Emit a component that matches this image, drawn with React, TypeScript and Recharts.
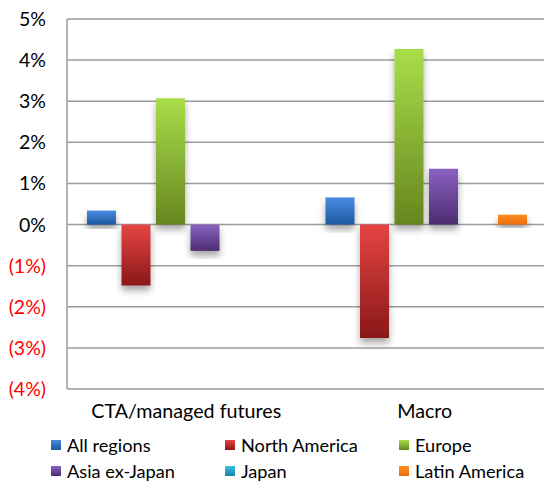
import { BarChart, Bar, XAxis, YAxis, CartesianGrid, Legend, Rectangle } from 'recharts'

// Regional returns by strategy, in percent
const categories = ['CTA/managed futures', 'Macro']
const allRegions = [0.34, 0.66]
const northAmerica = [-1.48, -2.76]
const europe = [3.07, 4.27]
const asiaExJapan = [-0.64, 1.36]
const japan = [0, 0]
const latinAmerica = [0, 0.24]
const yTicks = [-4, -3, -2, -1, 0, 1, 2, 3, 4, 5]

const series = [
  { key: 'allRegions', name: 'All regions', values: allRegions, top: '#4a8ce2', bottom: '#1d58a0' },
  { key: 'northAmerica', name: 'North America', values: northAmerica, top: '#e64444', bottom: '#8a1818' },
  { key: 'europe', name: 'Europe', values: europe, top: '#a9de4a', bottom: '#66861f' },
  { key: 'asiaExJapan', name: 'Asia ex-Japan', values: asiaExJapan, top: '#8a62c2', bottom: '#4c2c70' },
  { key: 'japan', name: 'Japan', values: japan, top: '#3cbde0', bottom: '#1a86a6' },
  { key: 'latinAmerica', name: 'Latin America', values: latinAmerica, top: '#ff8c24', bottom: '#ee6e0c' }
]

const data = categories.map((category, i) => {
  const row: Record<string, string | number> = { category }
  series.forEach(s => { row[s.key] = s.values[i] })
  return row
})

const FONT = 'Lato, "Liberation Sans", sans-serif'
const GRID = '#9c9c9c'

const YTick = ({ x, y, payload }: any) => {
  const v = payload.value as number
  const label = v < 0 ? `(${Math.abs(v)}%)` : `${v}%`
  return (
    <text x={x} y={y} dy={7} textAnchor="end" fontFamily={FONT} fontSize={19.5} fill={v < 0 ? '#ff0000' : '#000'}>
      {label}
    </text>
  )
}

const XTick = ({ x, y, payload }: any) => (
  <text x={x} y={y} dy={27} textAnchor="middle" fontFamily={FONT} fontSize={19.7} fill="#000">
    {payload.value}
  </text>
)

const ShadowBar = (props: any) => <Rectangle {...props} filter="url(#barShadow)" />

const renderLegend = () => (
  <div style={{ position: 'relative', width: 544, height: 52, fontFamily: FONT, fontSize: 18.2, color: '#000' }}>
    {series.map((s, i) => {
      const col = i % 3
      const row = Math.floor(i / 3)
      return (
        <div
          key={s.key}
          style={{
            position: 'absolute',
            left: 51 + col * 174,
            top: 4 + row * 26,
            height: 24,
            lineHeight: '24px',
            display: 'flex',
            alignItems: 'center',
            whiteSpace: 'nowrap'
          }}
        >
          <span
            style={{
              display: 'inline-block',
              width: 10,
              height: 10,
              marginRight: 6,
              background: `linear-gradient(${s.top}, ${s.bottom})`
            }}
          />
          {s.name}
        </div>
      )
    })}
  </div>
)

export default function App() {
  return (
    <div style={{ position: 'absolute', left: 0, top: 0, width: 544, height: 481, background: '#fff' }}>
      <svg width={0} height={0} style={{ position: 'absolute' }}>
        <defs>
          {series.map(s => (
            <linearGradient key={s.key} id={`grad-${s.key}`} x1="0" y1="0" x2="0" y2="1">
              <stop offset="0%" stopColor={s.top} />
              <stop offset="100%" stopColor={s.bottom} />
            </linearGradient>
          ))}
          <filter id="barShadow" x="-30%" y="-30%" width="160%" height="160%">
            <feDropShadow dx={0} dy={5} stdDeviation={3.5} floodColor="#000" floodOpacity={0.35} />
          </filter>
        </defs>
      </svg>
      <BarChart
        width={544}
        height={481}
        data={data}
        margin={{ top: 19, right: 0, left: 0, bottom: 0 }}
        barCategoryGap={20}
        barGap={5.5}
      >
        <CartesianGrid vertical={false} stroke={GRID} strokeWidth={1.5} />
        <XAxis
          dataKey="category"
          height={40}
          axisLine={false}
          tickLine={false}
          tickSize={0}
          tick={<XTick />}
        />
        <YAxis
          width={67}
          domain={[-4, 5]}
          ticks={yTicks}
          interval={0}
          axisLine={{ stroke: GRID, strokeWidth: 1.5 }}
          tickLine={false}
          tickSize={0}
          tickMargin={21}
          tick={<YTick />}
        />
        <Legend verticalAlign="bottom" height={52} content={renderLegend} />
        {series.map(s => (
          <Bar
            key={s.key}
            dataKey={s.key}
            name={s.name}
            fill={`url(#grad-${s.key})`}
            shape={<ShadowBar />}
            isAnimationActive={false}
          />
        ))}
      </BarChart>
    </div>
  )
}
